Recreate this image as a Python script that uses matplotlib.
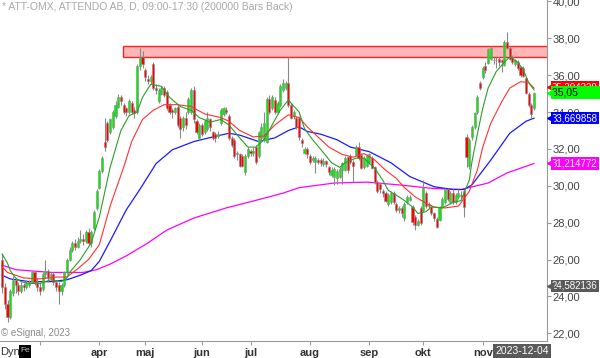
import matplotlib
matplotlib.use("Agg")
import matplotlib.pyplot as plt
from matplotlib.patches import Rectangle
from matplotlib.transforms import blended_transform_factory

plt.rcParams['font.family'] = ['Liberation Sans', 'DejaVu Sans']

# ---- data ----
opens = [26.0,24.5,23.6,22.9,24.2,24.9,24.6,24.3,24.6,24.5,24.6,24.8,25.3,24.8,24.5,24.4,25.2,25.4,25.0,25.2,
         24.8,24.6,24.3,24.6,25.3,26.0,26.5,26.9,26.7,27.0,27.1,27.0,27.5,26.9,27.7,28.8,29.9,30.8,32.4,33.4,
         32.9,33.2,33.8,34.3,34.8,34.4,34.2,34.0,34.5,34.1,34.0,36.5,37.0,36.3,35.8,35.7,36.6,35.3,34.6,35.0,
         35.3,35.1,34.4,34.1,34.0,34.3,33.7,33.2,33.7,34.0,34.0,35.2,33.5,32.6,33.3,32.9,33.1,33.6,32.9,32.8,
         32.7,33.4,33.9,34.1,33.8,32.6,32.5,31.7,31.7,31.6,30.75,31.6,31.9,31.8,32.1,31.6,32.6,32.5,32.4,34.7,
         34.2,34.65,34.0,34.4,35.2,35.3,35.6,34.4,33.8,33.7,33.7,32.5,31.8,32.0,31.6,31.4,31.3,31.4,31.4,31.2,
         31.35,31.0,30.6,30.5,30.4,30.5,30.85,30.85,31.55,31.6,31.3,31.65,32.1,31.65,31.0,31.1,31.3,31.5,31.0,30.2,
         30.1,29.7,29.6,29.0,29.1,29.6,29.0,28.7,28.8,28.25,29.1,29.25,28.85,28.3,27.9,28.8,28.7,29.6,28.9,28.85,
         28.55,28.2,28.15,28.85,29.1,29.8,29.1,29.6,29.1,29.4,29.5,29.7,32.65,31.05,32.65,33.2,34.0,35.6,35.9,36.5,
         36.65,36.9,36.8,36.85,36.9,36.8,36.55,37.8,37.5,37.0,36.6,36.7,36.45,36.4,35.85,35.0,34.4,34.2]
highs = [26.3,24.7,23.8,24.4,25.1,25.0,24.8,24.8,24.7,24.9,24.9,25.4,25.4,25.0,24.7,25.3,26.0,25.5,25.3,25.3,
         24.9,24.8,24.7,25.4,26.1,26.7,27.0,27.1,27.2,27.6,27.4,27.6,27.7,27.6,28.7,29.8,30.9,31.6,33.7,33.5,
         33.7,34.1,34.6,35.0,34.9,34.5,34.3,34.7,34.6,34.3,36.6,37.5,37.3,36.4,36.0,36.0,36.7,35.5,35.3,35.4,
         35.4,35.2,34.5,34.2,34.3,34.4,33.8,33.8,34.0,34.8,35.3,35.4,33.6,33.4,33.4,33.6,34.0,33.7,33.0,32.9,
         33.0,34.2,34.3,34.3,33.9,32.7,32.6,31.9,31.8,31.7,31.7,32.1,32.0,32.1,32.2,33.0,33.4,34.0,34.8,34.9,
         34.9,34.8,34.6,35.5,35.8,35.7,37.0,34.5,34.1,33.8,33.8,32.6,32.1,32.1,31.7,31.6,31.6,31.5,31.5,31.5,
         31.4,31.1,31.0,31.0,30.9,31.0,31.3,31.6,31.6,31.7,31.4,32.2,32.4,31.8,31.6,31.7,31.8,31.6,31.1,30.3,
         30.2,29.8,29.7,29.6,29.7,29.7,29.1,28.9,28.9,29.1,29.5,29.5,28.95,28.4,28.2,28.9,30.3,29.7,29.1,28.9,
         28.6,28.3,28.9,29.4,29.9,29.9,29.7,29.8,29.6,29.8,29.7,29.8,32.8,32.6,33.3,34.0,34.9,35.7,36.5,36.7,
         37.5,37.6,37.0,37.0,37.0,36.9,37.9,38.35,37.6,37.1,36.9,36.8,36.5,36.5,35.9,35.1,34.5,35.1]
lows = [24.2,23.3,22.6,22.8,24.0,24.2,24.1,24.2,24.3,24.4,24.5,24.7,24.6,24.3,24.1,24.3,25.0,24.8,24.9,24.6,
        24.3,23.6,24.1,24.5,25.2,25.9,26.4,26.5,26.6,26.9,26.8,26.9,26.8,26.7,27.6,28.7,29.8,30.7,31.9,32.4,
        32.8,33.1,33.7,34.2,34.4,33.9,33.8,33.9,33.9,33.7,33.9,36.3,36.4,35.7,35.5,35.5,35.2,35.0,34.5,34.9,
        34.8,34.1,33.9,33.7,33.9,33.2,32.6,33.0,33.1,33.9,33.9,33.4,32.8,32.5,32.7,32.8,33.0,33.0,32.5,32.4,
        32.6,33.3,33.8,33.9,32.5,32.1,31.5,31.4,31.0,31.0,30.6,31.5,31.6,31.6,31.2,31.5,32.5,32.4,32.3,33.9,
        34.1,33.9,33.9,34.3,35.1,35.2,34.3,33.6,33.6,33.1,32.5,32.1,31.7,31.5,31.2,31.3,30.7,31.2,31.1,31.1,
        31.0,30.6,30.5,30.05,30.1,30.4,30.1,30.8,30.7,31.2,30.2,31.6,31.4,30.9,30.9,31.0,31.2,30.9,30.1,29.6,
        29.6,29.4,29.1,28.9,29.0,29.0,28.6,28.5,28.3,28.1,29.0,29.15,27.9,27.6,27.8,27.9,28.6,28.8,28.8,28.4,
        28.1,27.7,28.1,28.8,29.0,29.2,29.0,29.0,29.0,29.3,29.3,28.3,31.0,30.9,32.5,33.1,33.9,35.2,35.8,36.1,
        36.6,36.8,36.6,36.4,36.5,36.2,36.5,37.4,36.8,36.6,36.5,36.3,35.9,35.9,35.0,34.3,33.7,34.1]
closes = [24.5,23.6,22.9,24.3,24.9,24.6,24.3,24.6,24.5,24.7,24.8,25.3,24.8,24.5,24.3,25.2,25.4,25.0,25.2,24.8,
          24.5,24.3,24.6,25.3,26.0,26.5,26.9,26.7,27.0,27.1,27.0,27.5,26.9,27.5,28.6,29.7,30.8,31.5,32.1,32.5,
          33.6,34.0,34.4,34.8,34.6,34.0,34.0,34.6,34.0,33.95,36.5,37.0,36.6,35.9,35.7,35.9,35.3,35.2,35.2,35.3,
          34.9,34.2,34.0,34.0,34.2,33.3,33.1,33.7,33.3,34.7,35.2,33.6,32.9,33.3,32.8,33.5,33.7,33.2,32.6,32.6,
          32.8,34.1,34.2,34.0,32.6,32.2,31.6,31.8,31.1,31.1,31.6,32.0,31.8,31.9,31.3,32.9,33.2,33.4,34.7,34.0,
          34.8,34.0,34.5,35.4,35.6,35.6,34.4,33.7,34.0,33.2,32.65,32.3,32.0,31.7,31.3,31.5,31.5,31.3,31.25,31.35,
          31.2,30.75,30.85,30.9,30.8,30.9,31.25,31.5,30.85,31.3,31.1,32.1,31.5,30.95,31.5,31.6,31.7,30.95,30.2,29.7,
          29.8,29.6,29.2,29.5,29.6,29.1,28.7,28.8,28.5,29.0,29.4,29.4,28.05,27.9,28.1,28.0,29.9,28.9,29.0,28.5,
          28.25,27.75,28.85,29.3,29.8,29.3,29.6,29.1,29.5,29.6,29.45,28.85,31.55,32.5,33.2,33.95,34.8,35.3,36.4,36.3,
          37.4,37.5,36.85,36.8,36.7,36.7,37.8,37.5,36.9,36.7,36.8,36.4,36.0,35.95,35.05,34.4,33.9,35.05]

# moving averages, sampled along the lines (bar index, price)
ma_green_x = [0,2,3,5,7,10,14,18,22,24,25,29,33,36,40,44,47,50,52,55,59,62,66,70,73,77,81,84,88,91,94,97,100,103,
              106,110,112,115,119,122,125,127,131,134,138,141,143,147,149,152,154,157,159,163,167,170,173,174,176,
              178,180,183,186,188,191,193,195,197]
ma_green_y = [26.3,25.8,25.4,25.0,24.8,24.7,24.7,24.9,24.8,25.0,25.3,26.0,26.9,28.3,31.0,33.0,33.8,34.0,34.8,35.5,
              35.4,34.8,34.3,34.1,33.7,33.45,33.6,33.3,32.6,32.1,32.1,32.5,33.3,34.1,34.65,34.0,33.1,32.5,31.8,31.25,
              31.0,31.25,31.5,31.5,30.95,30.3,29.75,29.4,29.2,28.85,28.5,28.6,28.85,28.8,29.1,29.2,30.3,31.3,32.8,
              34.2,35.3,36.2,36.7,37.0,36.7,36.3,35.6,35.2]
ma_red_x = [0,2,8,14,20,24,28,32,36,40,45,48,52,56,60,65,70,75,81,84,88,93,97,101,106,110,113,117,121,126,130,134,
            138,142,146,149,153,157,160,164,169,173,176,178,181,185,188,192,195,197]
ma_red_y = [25.6,25.3,25.0,24.95,25.05,25.05,25.5,26.0,26.8,28.9,31.0,32.4,33.6,34.1,34.4,34.4,34.3,33.9,33.7,33.5,
            33.0,32.65,32.7,33.3,33.85,33.7,33.2,32.65,32.1,31.7,31.55,31.75,31.4,30.85,30.4,29.9,29.4,29.05,28.85,
            28.8,28.9,29.7,30.85,32.1,33.4,34.55,35.3,35.65,35.6,35.3]
ma_blue_x = [0,3,10,18,24,29,33,36,40,46,51,57,63,71,78,84,88,95,101,106,110,113,118,124,129,136,144,151,160,167,
             171,174,181,188,194,197]
ma_blue_y = [25.15,24.95,24.8,24.8,24.9,25.15,25.4,25.9,27.0,28.7,29.8,31.2,31.95,32.4,32.65,32.85,32.75,32.4,32.6,
             33.0,33.2,32.95,32.8,32.5,32.1,31.85,31.25,30.5,29.95,29.8,29.8,30.05,31.4,32.85,33.5,33.67]
ma_mag_x = [0,5,18,30,35,40,46,54,61,71,83,95,104,110,123,135,147,160,170,180,187,197]
ma_mag_y = [25.7,25.45,25.3,25.3,25.45,25.75,26.2,26.9,27.6,28.25,28.8,29.25,29.6,29.9,30.15,30.2,30.05,29.85,
            29.8,30.15,30.7,31.21]

zone_start = 44.8
zone_low, zone_high = 37.0, 37.6

month_ticks = [14, 36, 53, 74, 92, 114, 136, 156, 178]
month_labels = ['', 'apr', 'maj', 'jun', 'jul', 'aug', 'sep', 'okt', 'nov']
price_ticks = [22, 24, 26, 28, 30, 32, 34, 36, 38, 40]

tags = [  # value, text, face, text colour, font size
    (24.58, '24,582136', '#5a5a5a', 'white', 7),
    (31.21, '31,214772', '#ff00ff', 'white', 7),
    (33.67, '33,669858', '#0000ff', 'white', 7),
    (35.36, '35,294229', '#ff0000', 'white', 7),
    (35.05, '35,05        ', '#00ff00', 'black', 7.5),
]

# ---- figure ----
W, H = 600, 358
fig = plt.figure(figsize=(W / 100, H / 100), dpi=100)
ax = fig.add_axes([0, 17 / H, 547 / W, 341 / H])
n = len(closes)
ax.set_xlim(-0.78, 201.8)
ax.set_ylim(21.58, 40.08)

# resistance zone
ax.add_patch(Rectangle((zone_start, zone_low), 300, zone_high - zone_low, facecolor='#ffb6b6',
                       edgecolor='#ff2020', lw=1.0, zorder=1))

# moving averages
ax.plot(ma_mag_x, ma_mag_y, color='#ff00ff', lw=0.9, zorder=2)
ax.plot(ma_blue_x, ma_blue_y, color='#1a1aff', lw=0.9, zorder=2)
ax.plot(ma_red_x, ma_red_y, color='#ff3030', lw=0.8, zorder=4)
ax.plot(ma_green_x, ma_green_y, color='#2a9f2a', lw=0.8, zorder=4)

# candles
idx = list(range(n))
ax.vlines(idx, lows, highs, color='#8a8a8a', lw=0.8, zorder=3)
bottoms = [min(o, c) for o, c in zip(opens, closes)]
heights = [max(abs(c - o), 0.05) for o, c in zip(opens, closes)]
cols = ['#00ee00' if c >= o else '#ff0000' for o, c in zip(opens, closes)]
ax.bar(idx, heights, bottom=bottoms, width=0.78, color=cols, edgecolor='#8a8a8a', lw=0.4, zorder=3)

# axes styling
for s in ['top', 'left']:
    ax.spines[s].set_visible(False)
ax.spines['right'].set_color('#9a9a9a')
ax.spines['bottom'].set_color('#9a9a9a')
ax.yaxis.tick_right()
ax.set_yticks(price_ticks)
ax.set_yticklabels(['%d,00' % p for p in price_ticks])
ax.tick_params(axis='y', length=3, width=0.8, color='#9a9a9a', pad=1, labelsize=8, labelcolor='#444444')
ax.set_xticks(month_ticks)
ax.set_xticklabels(month_labels, fontweight='bold')
ax.tick_params(axis='x', length=3, width=0.8, color='#9a9a9a', pad=2, labelsize=8, labelcolor='#333333')

# price tags on the right axis
trans = blended_transform_factory(ax.transAxes, ax.transData)
for val, txt, fc, tc, fs in tags:
    ax.text(1.0 + 5 / 547, val, txt, transform=trans, fontsize=fs, color=tc, va='center', ha='left',
            bbox=dict(boxstyle='square,pad=0.12', fc=fc, ec='none'), clip_on=False, zorder=10)
    ax.plot([1.0 + 2.5 / 547], [val], marker='<', ms=4.5, color=fc, transform=trans, clip_on=False, zorder=10)

# texts
fig.text(2 / W, 1 - 7 / H, '* ATT-OMX, ATTENDO AB, D, 09:00-17:30 (200000 Bars Back)', fontsize=7.5,
         color='#a8a8a8', va='center', ha='left')
fig.text(1 / W, 1 - 333 / H, '\u00a9 eSignal, 2023', fontsize=7, color='#8a8a8a', va='center', ha='left')
fig.text(0 / W, 1 - 352 / H, 'Dyn', fontsize=8, color='#333333', va='center', ha='left')
fig.patches.append(Rectangle((19 / W, 1 - 358 / H), 12 / W, 13 / H, transform=fig.transFigure,
                             facecolor='black', edgecolor='none'))
fig.text(25 / W, 1 - 351 / H, 'Fe', fontsize=6, color='#bbbbbb', va='center', ha='center')
fig.text(522 / W, 1 - 351 / H, '2023-12-04', fontsize=7.5, color='white', va='center', ha='center',
         bbox=dict(boxstyle='square,pad=0.2', fc='#5a5a5a', ec='none'))

fig.savefig('out.png', dpi=100)
